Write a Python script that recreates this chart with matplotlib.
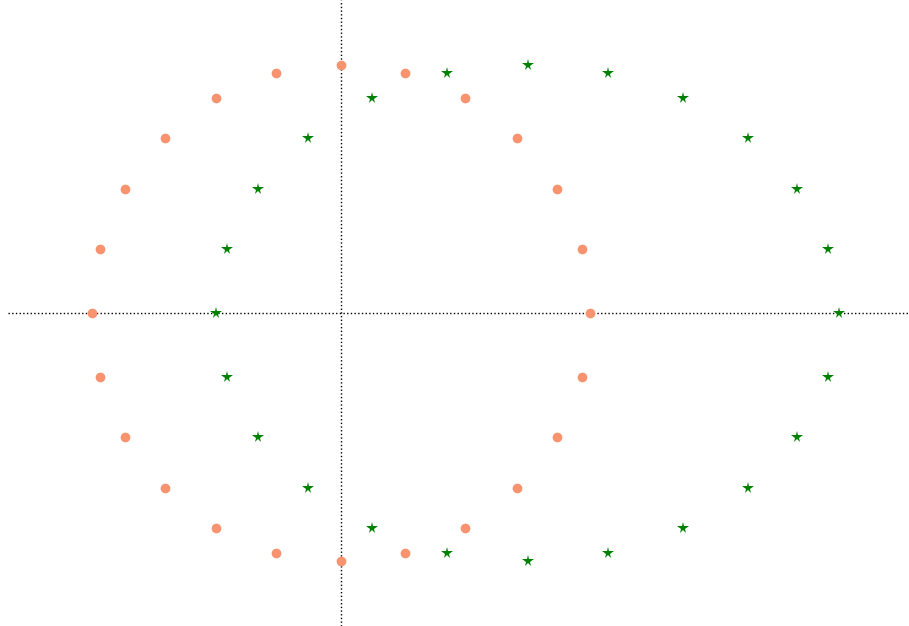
import matplotlib
matplotlib.use("Agg")
import matplotlib.pyplot as plt

# points (data units, centre of the orange ring at 0,0)
orange_x = [1.0, 0.966, 0.866, 0.707, 0.5, 0.259, 0.0, -0.259, -0.5, -0.707, -0.866, -0.966,
            -1.0, -0.966, -0.866, -0.707, -0.5, -0.259, 0.0, 0.259, 0.5, 0.707, 0.866, 0.966]
orange_y = [0.0, 0.259, 0.5, 0.707, 0.866, 0.966, 1.0, 0.966, 0.866, 0.707, 0.5, 0.259,
            0.0, -0.259, -0.5, -0.707, -0.866, -0.966, -1.0, -0.966, -0.866, -0.707, -0.5, -0.259]

green_x = [2.0, 1.957, 1.833, 1.634, 1.375, 1.074, 0.75, 0.426, 0.125, -0.134, -0.333, -0.457,
           -0.5, -0.457, -0.333, -0.134, 0.125, 0.426, 0.75, 1.074, 1.375, 1.634, 1.833, 1.957]
green_y = [0.0, 0.259, 0.5, 0.707, 0.866, 0.966, 1.0, 0.966, 0.866, 0.707, 0.5, 0.259,
           0.0, -0.259, -0.5, -0.707, -0.866, -0.966, -1.0, -0.966, -0.866, -0.707, -0.5, -0.259]

fig = plt.figure(figsize=(9.09, 6.26), dpi=100)
ax = fig.add_axes([0, 0, 1, 1])

ax.axhline(0, xmin=8 / 909, color='black', linestyle=':', linewidth=1, zorder=1)
ax.axvline(0, color='black', linestyle=':', linewidth=1, zorder=1)

ax.plot(orange_x, orange_y, 'o', color='#f7936f', markersize=7, markeredgewidth=0, zorder=3)
ax.plot(green_x, green_y, '*', color='green', markersize=8.5, markeredgewidth=0, zorder=3)

ax.set_xlim(-1.369, 2.281)
ax.set_ylim(-1.262, 1.262)
ax.axis('off')

fig.savefig('out.png', dpi=100)
